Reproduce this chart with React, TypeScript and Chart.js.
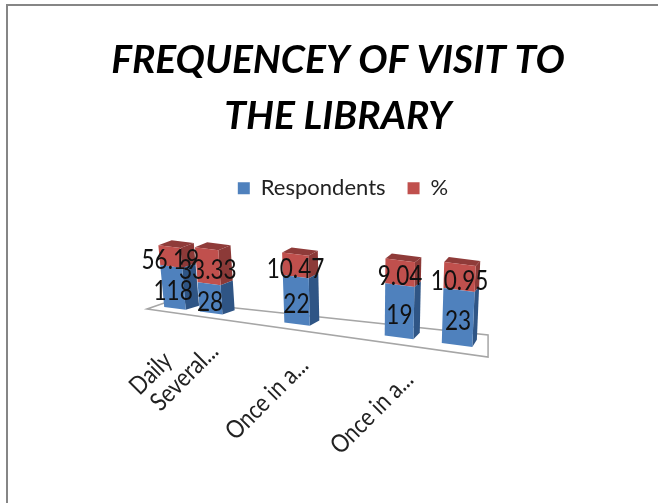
import React, { useEffect, useRef } from "react";
import { Chart, registerables, BarController, BarElement } from "chart.js";

const categories = ["Daily", "Several...", "Once in a...", "Once in a...", ""];
const axisPositions = [0.82, 1.88, 4.4, 7.39, 9.09];
const respondents = [118, 28, 22, 19, 23];
const percents = [56.19, 33.33, 10.47, 9.04, 10.95];
const percentText = ["56.19", "33.33", "10.47", "9.04", "10.95"];
const titleLines = ["FREQUENCEY OF VISIT TO", "THE LIBRARY"];
const seriesNames = ["Respondents", "%"];

const FONT = "Lato, Carlito, 'Open Sans', sans-serif";
const labelNudge = [[-18, 12], [-8, -2], [-4, 1], [-1, 2], [0, 0]];

const shade = {
  blue: { front: "#4F81BD", side: "#2F5585", top: "#3F6AA0" },
  red: { front: "#C0504D", side: "#8C3A38", top: "#8F3B39" },
};

// Oblique projection of the flat plot into the 3-D look of the reference.
function project(X: number, s: number, v: number, d: number): [number, number] {
  const w = 21.5 + 0.032 * (X - 175);
  const xb = X + s * w;
  const yb = 307 + 0.13 * (xb - 165);
  const h = 61 + 0.0686 * (X - 165);
  const tilt = 0.03 * (xb - 360);
  const dx = 13 - 0.031 * (X - 185);
  const dy = -(4 + 0.012 * (X - 185)) * (1 - v) - 5 * v;
  return [xb + tilt * v + dx * d, yb - h * v + dy * d];
}

function poly(ctx: CanvasRenderingContext2D, pts: [number, number][], fill: string) {
  ctx.beginPath();
  pts.forEach((p, i) => (i ? ctx.lineTo(p[0], p[1]) : ctx.moveTo(p[0], p[1])));
  ctx.closePath();
  ctx.fillStyle = fill;
  ctx.fill();
}

class Bar3DElement extends BarElement {
  static id = "bar3dElement";
  static defaults = BarElement.defaults;
  static defaultRoutes = BarElement.defaultRoutes;
  draw(ctx: CanvasRenderingContext2D) {
    const self = this as any;
    const { x, y, base } = self.getProps(["x", "y", "base"]);
    const yScale = self.$yScale;
    const v0 = (yScale.bottom - base) / (yScale.bottom - yScale.top);
    const v1 = (yScale.bottom - y) / (yScale.bottom - yScale.top);
    const c = self.options.backgroundColor === shade.blue.front ? shade.blue : shade.red;
    ctx.save();
    poly(ctx, [project(x, 0.5, v0, 0), project(x, 0.5, v0, 1), project(x, 0.5, v1, 1), project(x, 0.5, v1, 0)], c.side);
    if (v1 > 0.999) {
      poly(ctx, [project(x, -0.5, v1, 0), project(x, -0.5, v1, 1), project(x, 0.5, v1, 1), project(x, 0.5, v1, 0)], c.top);
    }
    poly(ctx, [project(x, -0.5, v0, 0), project(x, 0.5, v0, 0), project(x, 0.5, v1, 0), project(x, -0.5, v1, 0)], c.front);
    ctx.restore();
  }
}

class Bar3DController extends BarController {
  static id = "bar3d";
  static defaults = { ...BarController.defaults, dataElementType: "bar3dElement" };
  static overrides = BarController.overrides;
  updateElements(bars: any[], start: number, count: number, mode: any) {
    (BarController.prototype as any).updateElements.call(this, bars, start, count, mode);
    const yScale = (this as any).chart.scales.y;
    bars.forEach((b) => (b.$yScale = yScale));
  }
}

Chart.register(...registerables, Bar3DElement as any, Bar3DController as any);

const scene = {
  id: "scene",
  afterLayout(chart: any) {
    chart.legend.left += 5;
    chart.legend.right += 5;
  },
  beforeDatasetsDraw(chart: any) {
    const { ctx, scales } = chart;
    const left = scales.x.getPixelForValue(0);
    const right = scales.x.getPixelForValue(10);
    const fy = (x: number) => 309 + 0.1408 * (x - left);
    ctx.save();
    ctx.strokeStyle = "#A6A6A6";
    ctx.lineWidth = 1.5;
    ctx.beginPath();
    ctx.moveTo(left, fy(left));
    ctx.lineTo(right, fy(right));
    ctx.lineTo(right, fy(right) - 22);
    ctx.lineTo(left + 23, fy(left) - 8);
    ctx.closePath();
    ctx.stroke();
    ctx.restore();
  },
  afterDatasetsDraw(chart: any) {
    const { ctx } = chart;
    const yScale = chart.scales.y;
    ctx.save();
    ctx.fillStyle = "#111";
    ctx.textAlign = "center";
    ctx.textBaseline = "middle";
    ctx.font = `24px ${FONT}`;
    const toV = (p: number) => (yScale.bottom - p) / (yScale.bottom - yScale.top);
    chart.data.datasets.forEach((_: any, di: number) => {
      chart.getDatasetMeta(di).data.forEach((el: any, i: number) => {
        const vm = (toV(el.y) + toV(el.base)) / 2;
        const [px, py] = project(el.x, 0, vm, 0);
        ctx.save();
        ctx.translate(px, py + 4);
        ctx.scale(0.94, 1.12);
        ctx.fillText(di === 0 ? String(respondents[i]) : percentText[i], 0, 0);
        ctx.restore();
      });
    });
    ctx.font = `23px ${FONT}`;
    ctx.fillStyle = "#222";
    ctx.textAlign = "right";
    chart.getDatasetMeta(0).data.forEach((el: any, i: number) => {
      if (!categories[i]) return;
      const [bx, by] = project(el.x, 0, 0, 0);
      ctx.save();
      ctx.translate(bx + 11 + labelNudge[i][0], by + 36 + labelNudge[i][1]);
      ctx.rotate(-Math.PI / 4);
      ctx.scale(0.94, 1.1);
      ctx.fillText(categories[i], 0, 0);
      ctx.restore();
    });
    ctx.restore();
  },
};

export default function App() {
  const ref = useRef<HTMLCanvasElement>(null);
  useEffect(() => {
    const chart = new Chart(ref.current!, {
      type: "bar3d" as any,
      data: {
        datasets: [
          {
            label: seriesNames[0],
            backgroundColor: shade.blue.front,
            data: axisPositions.map((x, i) => ({ x, y: (100 * respondents[i]) / (respondents[i] + percents[i]) })),
          },
          {
            label: seriesNames[1],
            backgroundColor: shade.red.front,
            data: axisPositions.map((x, i) => ({ x, y: (100 * percents[i]) / (respondents[i] + percents[i]) })),
          },
        ],
      },
      options: {
        responsive: false,
        animation: false,
        barThickness: 20,
        clip: false,
        layout: { padding: 0 },
        scales: {
          x: { type: "linear", display: false, stacked: true, offset: false, min: -4.31, max: 15.51 },
          y: { display: false, stacked: true, min: 0, max: 100 },
        },
        plugins: {
          tooltip: { enabled: false },
          title: {
            display: true,
            text: titleLines,
            color: "#000",
            padding: { top: 32, bottom: 11 },
            font: { family: FONT, size: 39, weight: "bold", style: "italic", lineHeight: 1.44 },
          },
          legend: {
            position: "top",
            labels: {
              boxWidth: 12,
              boxHeight: 12,
              padding: 22,
              color: "#222",
              font: { family: FONT, size: 22 },
            },
          },
        },
      } as any,
      plugins: [scene],
    });
    return () => chart.destroy();
  }, []);
  return (
    <div style={{ position: "fixed", left: 0, top: 0, width: 658, height: 503, overflow: "hidden", background: "#fff" }}>
      <canvas ref={ref} width={676} height={503} style={{ display: "block", filter: "blur(0.5px)" }} />
      <div style={{ position: "absolute", left: 6, top: 4, width: 700, height: 600, border: "2px solid #868686" }} />
    </div>
  );
}
